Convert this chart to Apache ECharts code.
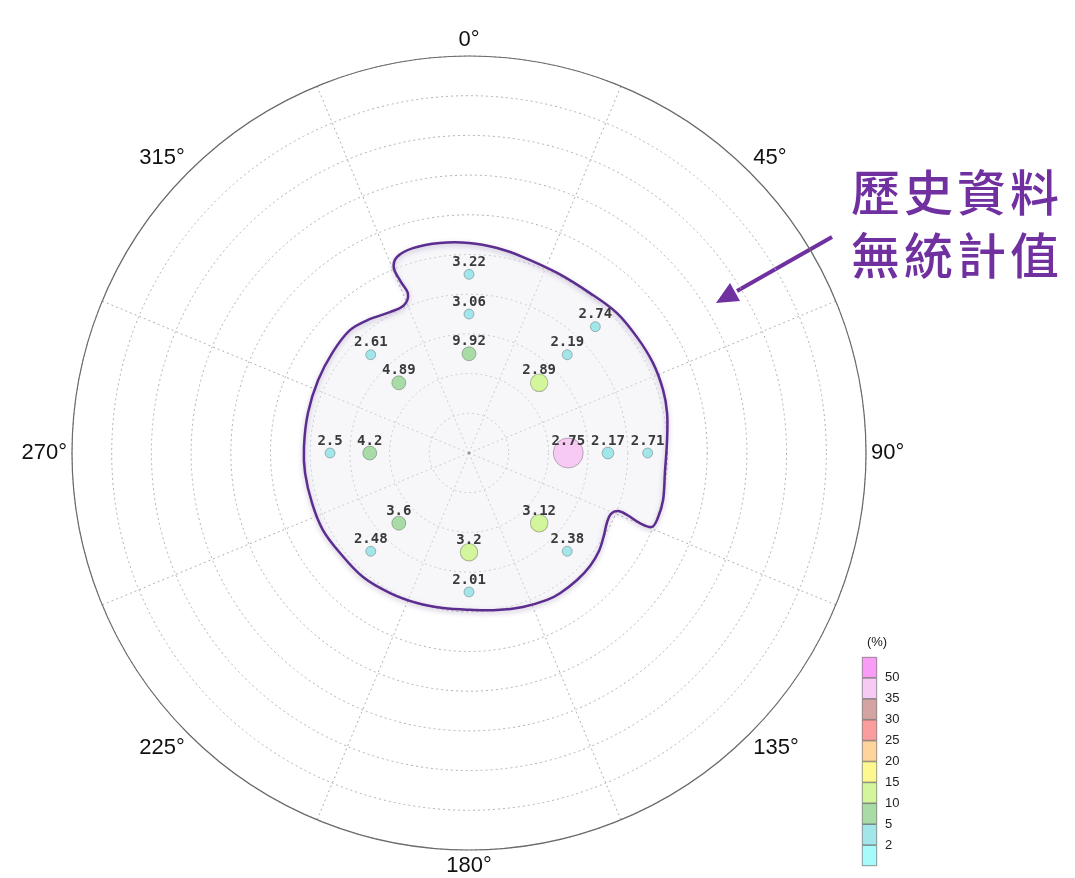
<!DOCTYPE html>
<html><head><meta charset="utf-8">
<script src="https://cdn.jsdelivr.net/npm/echarts@6/dist/echarts.min.js"></script>
<style>html,body{margin:0;padding:0;background:#fff}#c{width:1075px;height:878px}</style>
</head><body><div id="c"></div>
<script>
// ---- data ----
const angleTicks = ['0°','45°','90°','135°','180°','225°','270°','315°'];
const pointLabels  = ['3.22','3.06','9.92','2.74','2.19','2.89','2.61','4.89','2.5','4.2','2.75','2.17','2.71','3.6','2.48','3.2','3.12','2.38','2.01'];
const pointAngle   = [0,   0,   0,   45,  45,  45,  315, 315, 270, 270, 90,  90,  90,  225, 225, 180, 135, 135, 180];
const pointRadius  = [4.5, 3.5, 2.5, 4.5, 3.5, 2.5, 3.5, 2.5, 3.5, 2.5, 2.5, 3.5, 4.5, 2.5, 3.5, 2.5, 2.5, 3.5, 3.5];
const pointPercent = [3,   3,   7,   3,   3,   12,  3,   7,   3,   7,   40,  4.6, 3,   7,   3,   12,  12,  3,   3];
const boundaryA = [0,7.8,15.4,26.1,37.1,46.6,55.4,63.9,72.0,78.6,86.2,95.8,103.6,109.0,112.0,112.3,111.4,111.3,113.2,116.6,121.3,127.0,133.0,139.6,147.0,152.0,160.7,169.9,179.6,189.5,199.1,209.4,220.5,232.2,242.2,252.3,263.0,272.1,284.0,295.8,306.6,315.9,322.8,330.7,336.3,339.0,338.3,337.9,339.8,344.7,352.1];
const boundaryR = [5.29,5.21,5.12,5.05,5.05,5.13,5.14,5.16,5.14,5.09,5.0,4.96,5.03,5.03,4.97,4.65,4.28,4.03,3.89,3.89,3.98,4.10,4.17,4.20,4.21,4.19,4.11,4.02,3.95,3.96,4.0,4.05,4.11,4.11,4.16,4.15,4.16,4.16,4.18,4.22,4.27,4.31,4.21,4.07,4.07,4.29,4.64,5.03,5.26,5.35,5.34];
const legendBounds = [0,2,5,10,15,20,25,30,35,50];
const legendTicks  = ['2','5','10','15','20','25','30','35','50'];
const legendColors = ['#a6fbfb','#a3e6ea','#a8dba6','#d3f59b','#fdf98f','#fdd49c','#fb9d9d','#d4a4a2','#f6caf2','#f89cf6'];
const legendSegments = [1,1,1,1,1,1,1,1,1,1];
const noteLines = ['歷史資料','無統計值'];

// ---- chart ----
const chart = echarts.init(document.getElementById('c'));
const CX = 469, CY = 453, R = 397;
const dash = {color:'#b0b0b0', width:1, type:[2,3]};

const pieces = legendColors.map((c,i) => {
  const p = {gte: legendBounds[i], color: c};
  if (i < legendBounds.length - 1) p.lt = legendBounds[i+1];
  return p;
});

const pointData = pointLabels.map((l,i) => ({name: l, value: [pointRadius[i], pointAngle[i], pointPercent[i]]}));

const noteGraphics = [];
noteLines.forEach((line, li) => {
  Array.from(line).forEach((ch, ci) => {
    noteGraphics.push({type:'text', left: 851 + ci*53, top: 168 + li*63,
      style:{text: ch, fill:'#7030a0', font:'500 49px "Noto Sans CJK TC"'}});
  });
});
noteGraphics.push({type:'line', shape:{x1:832,y1:237,x2:737,y2:291}, style:{stroke:'#7030a0', lineWidth:4}});
noteGraphics.push({type:'polygon', shape:{points:[[716,303],[740,301],[730,283]]}, style:{fill:'#7030a0'}});

const option = {
  animation: false,
  polar: [
    {center:[CX,CY], radius:R},
    {center:[CX,CY], radius:R}
  ],
  angleAxis: [
    {polarIndex:0, type:'value', min:0, max:360, interval:45, startAngle:90, clockwise:true,
     axisLine:{lineStyle:{color:'#6a6a6a', width:1.2}}, axisTick:{show:false}, splitLine:{show:false},
     axisLabel:{margin:5, fontSize:22, color:'#111', fontFamily:'Liberation Sans',
       formatter: v => angleTicks[Math.round(v/45)] || ''}},
    {polarIndex:1, type:'value', min:0, max:360, interval:45, startAngle:67.5, clockwise:true,
     axisLine:{show:false}, axisTick:{show:false}, axisLabel:{show:false},
     splitLine:{show:true, lineStyle:dash}}
  ],
  radiusAxis: [
    {polarIndex:0, type:'value', min:0, max:10, interval:1,
     axisLine:{show:false}, axisTick:{show:false}, axisLabel:{show:false},
     splitLine:{show:true, lineStyle:dash}},
    {polarIndex:1, type:'value', min:0, max:10, interval:1,
     axisLine:{show:false}, axisTick:{show:false}, axisLabel:{show:false}, splitLine:{show:false}}
  ],
  grid: {left:862, top:657, width:15, height:209},
  xAxis: {type:'category', data:['%'], show:false},
  yAxis: {type:'value', min:0, max:10, interval:1, position:'right',
    axisLine:{show:false}, axisTick:{show:false},
    splitLine:{show:false},
    axisLabel:{margin:8, fontSize:13, color:'#222', fontFamily:'Liberation Sans',
      formatter: v => legendTicks[v-1] || ''},
    name:'(%)', nameLocation:'end', nameGap:8,
    nameTextStyle:{fontSize:13, color:'#222', fontFamily:'Liberation Sans'}},
  visualMap: {type:'piecewise', show:false, dimension:2, seriesIndex:2, pieces: pieces},
  graphic: noteGraphics,
  series: [
    {type:'custom', coordinateSystem:'polar', polarIndex:0, z:2, silent:true,
     data: boundaryR.map((r,i) => [r, boundaryA[i]]),
     renderItem: (params, api) => {
       if (params.dataIndex !== 0) return null;
       const pts = boundaryR.map((r,i) => api.coord([r, boundaryA[i]]));
       return {type:'group', children:[
         {type:'polygon', shape:{points:pts, smooth:0.35},
          style:{fill:'rgba(238,238,243,0.45)', stroke:null}},
         {type:'polygon', shape:{points:pts, smooth:0.35},
          style:{fill:null, stroke:'#5b2d8e', lineWidth:2.5,
            shadowBlur:5, shadowColor:'rgba(90,60,130,0.35)', shadowOffsetY:2}}
       ]};
     }},
    {type:'scatter', coordinateSystem:'polar', polarIndex:0, z:3, silent:true,
     data:[[0,0]], symbolSize:3, itemStyle:{color:'#888'}},
    {type:'scatter', coordinateSystem:'polar', polarIndex:0, z:4,
     data: pointData,
     symbolSize: v => 2.45 + 4.36*Math.sqrt(v[2]),
     itemStyle:{borderColor:'rgba(0,0,0,0.25)', borderWidth:1, opacity:1},
     label:{show:true, position:'inside', offset:[0,-12], formatter:'{b}',
       fontFamily:'DejaVu Sans Mono', fontWeight:'bold', fontSize:14, color:'#3a3a3a'}},
    ...legendColors.map((c,i) => ({type:'bar', stack:'leg', xAxisIndex:0, yAxisIndex:0, silent:true,
      barWidth:'100%', data:[legendSegments[i]],
      itemStyle:{color:c, borderColor:'#555', borderWidth:0.6}}))
  ]
};
chart.setOption(option);
</script>
</body></html>
